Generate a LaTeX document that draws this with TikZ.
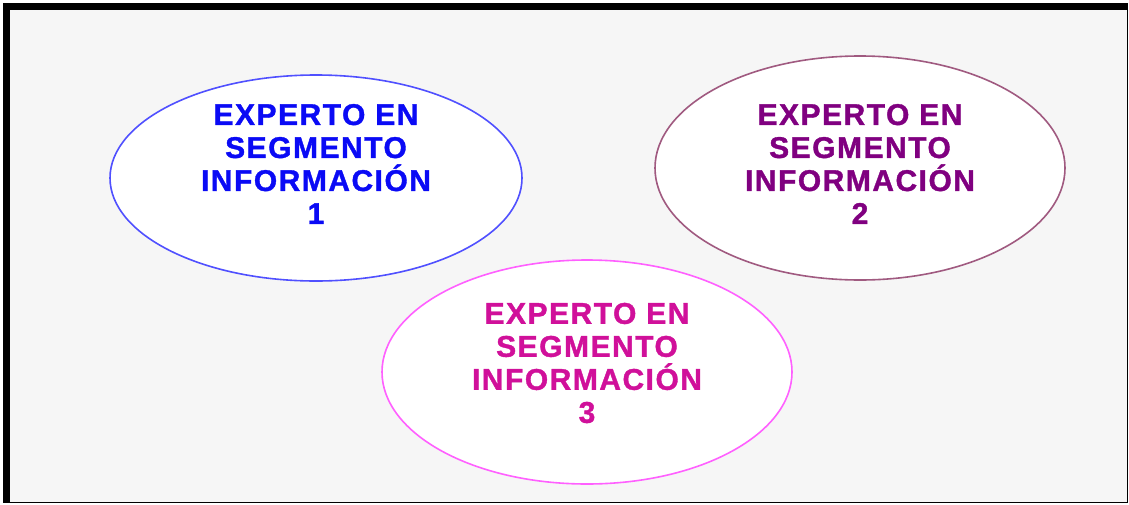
\documentclass[tikz,border=0pt]{standalone}
\usepackage{fontspec}
\setmainfont[LetterSpace=5,FakeBold=1.2]{Liberation Sans}
\usetikzlibrary{shapes,positioning}
\definecolor{bluetxt}{HTML}{0A0AF5}
\definecolor{bluerim}{HTML}{5050FF}
\definecolor{purpletxt}{HTML}{800080}
\definecolor{purplerim}{HTML}{A05A80}
\definecolor{pinktxt}{HTML}{D0109A}
\definecolor{pinkrim}{HTML}{FF60FF}
\definecolor{paper}{HTML}{F6F6F6}
\begin{document}
\begin{tikzpicture}[x=0.5pt,y=-0.5pt,
	expert/.style={ellipse,draw,fill=white,line width=0.8pt,inner sep=0pt},
	experttext/.style={align=center,inner sep=0pt,
		font=\fontsize{15}{16.5}\selectfont\bfseries}]
	\useasboundingbox (0,0) rectangle (1129,504);
	\fill[black] (3,3) rectangle (1128,503);
	\fill[paper] (10,10) rectangle (1127,502);

	% segment ellipses
	\node[expert,draw=bluerim,minimum width=206,minimum height=103] (e1) at (316,178) {};
	\node[expert,draw=purplerim,minimum width=205,minimum height=112] (e2) at (860,168) {};
	\node[expert,draw=pinkrim,minimum width=205,minimum height=112] (e3) at (587,372) {};

	% texts
	\node[experttext,text=bluetxt] (t1) at ([yshift=7pt]e1.center)
		{EXPERTO EN\\SEGMENTO\\INFORMACIÓN\\1};
	\node[experttext,text=purpletxt] (t2) at ([yshift=2pt]e2.center)
		{EXPERTO EN\\SEGMENTO\\INFORMACIÓN\\2};
	\node[experttext,text=pinktxt] (t3) at ([yshift=4.5pt]e3.center)
		{EXPERTO EN\\SEGMENTO\\INFORMACIÓN\\3};
\end{tikzpicture}
\end{document}
